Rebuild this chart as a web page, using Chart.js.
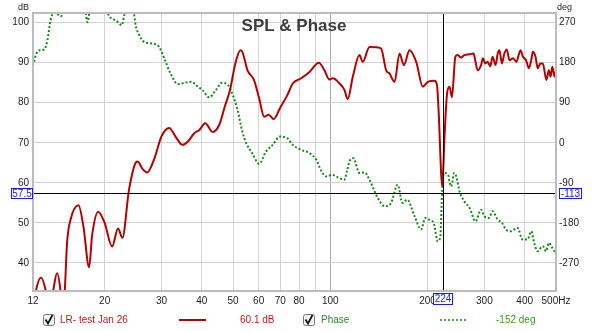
<!DOCTYPE html>
<html>
<head>
<meta charset="utf-8">
<script src="https://cdn.jsdelivr.net/npm/chart.js@4.4.0/dist/chart.umd.min.js"></script>
<style>
html, body { margin: 0; padding: 0; background: #fff; }
</style>
</head>
<body>
<canvas id="splChart" width="600" height="331"></canvas>
<script>
// SPL trace (Hz / dB)
var splFreq = [11.9, 12.25, 12.7, 13.15, 13.45, 13.85, 14.24, 14.6, 14.8, 15.05,
  15.3, 15.7, 16.6, 17.2, 17.9, 18.3, 19.1, 20.0, 21.1, 22.0,
  22.7, 23.8, 25.0, 25.3, 26.2, 27.1, 28.5, 30.0, 31.7, 33.2,
  34.8, 36.3, 37.9, 39.3, 41.0, 43.2, 45.3, 47.1, 48.9, 50.8,
  52.7, 53.4, 55.4, 58.0, 60.2, 62.4, 64.4, 66.8, 69.8, 73.6,
  76.5, 81.2, 86.2, 92.1, 95.9, 99.3, 101.8, 106.8, 110.6, 113.2,
  117.4, 123.1, 126, 132.2, 140.3, 143.7, 148.9, 152.5, 158.1, 163.8,
  168.9, 175.9, 184.5, 193.4, 200.4, 210.2, 214, 216.4, 222.2, 225.8,
  230, 234, 238, 244, 248, 254, 260, 270, 278, 281,
  286, 293, 297, 302, 307, 313, 318, 325, 330, 334,
  340, 346, 352, 359, 368, 377, 388, 395, 404, 412,
  419, 424, 432, 439, 447, 455, 467, 475, 481, 487,
  495, 500];
var splDb = [26, 33, 36.4, 33, 28, 33, 37.4, 33, 27, 33,
  45.1, 50.9, 54.4, 49, 38.9, 47, 52.8, 50, 44.1, 48.6,
  46.3, 58.3, 65.1, 65.3, 63.5, 62.6, 66, 71.6, 73.7, 71.5,
  69.5, 70.4, 72.4, 73.2, 74.9, 72.7, 74.5, 79.0, 83.2, 89.8,
  93.1, 92.7, 88.1, 85.7, 81.1, 76.5, 77.0, 75.9, 78.6, 81.9,
  84.8, 86.1, 87.7, 90.0, 88.1, 85.8, 86.1, 84.8, 83.2, 80.9,
  86.5, 91.9, 90.2, 93.9, 93.8, 93.5, 88.1, 87.3, 85.2, 92.3,
  89.4, 93.1, 90.2, 84.0, 85.2, 85.5, 84.4, 78.2, 59.2, 71.6,
  82.4, 84.0, 81.4, 91.5, 91.9, 91.3, 91.9, 92.1, 92.3, 90.6,
  88.1, 89.4, 91.1, 89.8, 90.2, 89.1, 91.5, 89.4, 92.3, 93.1,
  89.8, 92.3, 93.3, 90.6, 91.1, 90.2, 93.1, 91.5, 90.6, 88.6,
  90.6, 92.7, 91.5, 88.6, 89.8, 89.8, 85.7, 88.1, 86.5, 89.0,
  86.5, 88];

// Phase trace (Hz / deg)
var phaseFreq = [11.9, 12.3, 12.6, 13.0, 13.3, 13.6, 13.9, 14.3, 14.65, 14.95,
  16.0, 17.4, 17.7, 18.0, 19.2, 20.3, 20.6, 21.4, 22.0, 22.6,
  23.0, 23.4, 24.0, 24.5, 24.75, 24.95, 25.5, 26.5, 28.1, 29.5,
  30.6, 32.0, 33.7, 35.3, 37.1, 38.9, 40.2, 42.2, 44.2, 46.2,
  48.2, 49.9, 51.6, 53.4, 54.9, 57.3, 60.2, 63.2, 66.3, 69.8,
  73.6, 76.5, 81.2, 86.2, 90.5, 93.9, 97.5, 101.3, 105.2, 110.6,
  112.5, 114.6, 117.8, 123.1, 127.8, 132.2, 140.3, 147.6, 154.2, 161.6,
  167.3, 173, 182.4, 191, 196.9, 204, 208.9, 215.2, 219.2, 222,
  225, 231.6, 234, 236.5, 239, 241.5, 245.6, 251.3, 260, 270,
  281.6, 293, 300, 310, 318, 330, 340, 350, 362, 380,
  394, 408, 419, 428, 438, 455, 466, 475, 487, 495,
  500];
var phaseDeg = [165, 200.6, 208, 209.5, 230.4, 275, 292, 288.6, 284, 300,
  330, 300, 271, 300, 330, 300, 286, 276.7, 271.4, 264,
  286, 305, 320, 300, 283, 264, 245, 226.6, 223, 215.4,
  189.4, 155.8, 131.9, 134.8, 137, 125.8, 118.4, 102.1, 118.4, 134.8,
  129.6, 107.2, 73.7, 25, -1, -23.3, -47.2, -19.7, -4.7, 13.9,
  10.3, -4.7, -15.9, -23.3, -38.3, -64.5, -75.7, -71.9, -77, -83.1,
  -64.5, -42, -34.5, -68, -66.7, -83.1, -124, -142.8, -135.2, -94.3,
  -135.2, -127.8, -165.2, -195, -168.8, -174.2, -180, -221.2, -210, -105.4,
  -68, -71.9, -88, -98, -87, -68, -75.7, -109.3, -131.6, -146.4,
  -176.4, -150.2, -165.2, -168.8, -154, -172.6, -180, -195, -198.8, -191.2,
  -217.4, -217.4, -198.8, -224.8, -243.6, -232.4, -243.6, -224.8, -236, -243.6,
  -240];

var freqTicks = [12, 20, 30, 40, 50, 60, 70, 80, 90, 100, 200, 300, 400, 500];
var dbTicks = [40, 50, 60, 70, 80, 90, 100];
var degTicks = [-270, -180, -90, 0, 90, 180, 270];

var cursorFreq = 224;
var cursorDb = 57.5;
var cursorDeg = -113;

var FONT = '"Liberation Sans", Arial, sans-serif';
Chart.defaults.font.family = FONT;

function pts(xs, ys) {
  var out = [];
  for (var i = 0; i < xs.length; i++) out.push({ x: xs[i], y: ys[i] });
  return out;
}

function blueBox(ctx, text, x, y, w, h) {
  ctx.fillStyle = '#fff';
  ctx.fillRect(x, y, w, h);
  ctx.strokeStyle = '#1a1aff';
  ctx.lineWidth = 1;
  ctx.strokeRect(x, y, w, h);
  ctx.fillStyle = '#1a1aff';
  ctx.textAlign = 'center';
  ctx.textBaseline = 'middle';
  ctx.fillText(text, x + w / 2, y + h / 2 + 0.5);
}

function checkbox(ctx, x, y) {
  ctx.fillStyle = '#f2f2f2';
  ctx.strokeStyle = '#777';
  ctx.lineWidth = 1;
  ctx.beginPath();
  ctx.roundRect(x + 0.5, y + 0.5, 11, 11, 2);
  ctx.fill();
  ctx.stroke();
  ctx.strokeStyle = '#111';
  ctx.lineWidth = 1.7;
  ctx.beginPath();
  ctx.moveTo(x + 2.5, y + 5.5);
  ctx.lineTo(x + 5, y + 9.5);
  ctx.lineTo(x + 9.5, y + 1);
  ctx.stroke();
}

var decor = {
  id: 'decor',
  afterDraw: function (chart) {
    var ctx = chart.ctx, a = chart.chartArea;
    var cx = Math.round(chart.scales.x.getPixelForValue(cursorFreq)) + 0.5;
    var cy = Math.round(chart.scales.y.getPixelForValue(cursorDb)) + 0.5;
    ctx.save();

    // cursor
    ctx.strokeStyle = '#000';
    ctx.lineWidth = 1;
    ctx.beginPath();
    ctx.moveTo(a.left, cy); ctx.lineTo(a.right, cy);
    ctx.moveTo(cx, a.top); ctx.lineTo(cx, a.bottom);
    ctx.stroke();

    // plot frame
    ctx.strokeStyle = '#bcbcbc';
    ctx.lineWidth = 2;
    ctx.strokeRect(a.left, a.top, a.right - a.left, a.bottom - a.top);

    // title and unit labels
    ctx.fillStyle = '#3c3c3c';
    ctx.font = 'bold 17px ' + FONT;
    ctx.textAlign = 'center';
    ctx.textBaseline = 'alphabetic';
    ctx.fillText('SPL & Phase', 294, 31);
    ctx.fillStyle = '#222';
    ctx.font = '9px ' + FONT;
    ctx.textAlign = 'left';
    ctx.fillText('dB', 18, 10);
    ctx.fillText('deg', 557, 10);

    // cursor readouts
    ctx.font = '10px ' + FONT;
    blueBox(ctx, String(cursorDb), 11.5, cy - 5, 21, 10);
    blueBox(ctx, String(cursorDeg), 559.5, cy - 5, 22, 10);
    blueBox(ctx, String(cursorFreq), cx - 10, 293.5, 19, 11);

    // legend row
    var ly = 320;
    checkbox(ctx, 43, 314);
    ctx.font = '10px ' + FONT;
    ctx.textAlign = 'left';
    ctx.textBaseline = 'middle';
    ctx.fillStyle = '#cc1515';
    ctx.fillText('LR- test Jan 26', 60, ly);
    ctx.fillText('60.1 dB', 240, ly);
    ctx.strokeStyle = '#bb0000';
    ctx.lineWidth = 2;
    ctx.beginPath();
    ctx.moveTo(179, ly); ctx.lineTo(206, ly);
    ctx.stroke();

    checkbox(ctx, 303, 314);
    ctx.fillStyle = '#1f8f1f';
    ctx.fillText('Phase', 321, ly);
    ctx.fillStyle = '#3d9a17';
    ctx.fillText('-152 deg', 496, ly);
    ctx.strokeStyle = '#138a13';
    ctx.setLineDash([2, 2]);
    ctx.beginPath();
    ctx.moveTo(440, ly); ctx.lineTo(467, ly);
    ctx.stroke();
    ctx.setLineDash([]);

    ctx.restore();
  }
};

new Chart(document.getElementById('splChart').getContext('2d'), {
  type: 'line',
  data: {
    datasets: [
      {
        label: 'LR- test Jan 26',
        data: pts(splFreq, splDb),
        yAxisID: 'y',
        borderColor: '#b80000',
        borderWidth: 2,
        pointRadius: 0,
        cubicInterpolationMode: 'monotone',
        fill: false
      },
      {
        label: 'Phase',
        data: pts(phaseFreq, phaseDeg),
        yAxisID: 'y1',
        borderColor: '#138a13',
        borderWidth: 2,
        borderDash: [2, 2],
        pointRadius: 0,
        cubicInterpolationMode: 'monotone',
        fill: false
      }
    ]
  },
  options: {
    responsive: false,
    animation: false,
    devicePixelRatio: 1,
    layout: { padding: { top: 13, left: 0, right: 0, bottom: 0 } },
    plugins: {
      legend: { display: false },
      title: { display: false },
      tooltip: { enabled: false }
    },
    scales: {
      x: {
        type: 'logarithmic',
        min: 12,
        max: 500,
        afterBuildTicks: function (s) { s.ticks = freqTicks.map(function (v) { return { value: v }; }); },
        afterFit: function (s) { s.height = 40; },
        border: { display: false },
        grid: {
          drawTicks: false,
          lineWidth: 1,
          color: function (c) { return c.tick && c.tick.value === 100 ? '#a9a9a9' : '#d2d2d2'; }
        },
        ticks: {
          autoSkip: false,
          maxRotation: 0,
          padding: 4,
          color: '#222',
          font: { size: 10 },
          callback: function (v) {
            if (v === 90) return '';
            if (v === 500) return '500Hz';
            return String(v);
          }
        }
      },
      y: {
        position: 'left',
        min: 33,
        max: 102.4,
        afterBuildTicks: function (s) { s.ticks = dbTicks.map(function (v) { return { value: v }; }); },
        afterFit: function (s) { s.width = 33; },
        border: { display: false },
        grid: { drawTicks: false, color: '#d2d2d2', lineWidth: 1 },
        ticks: { padding: 4, color: '#222', font: { size: 10 } }
      },
      y1: {
        position: 'right',
        min: (33 - 70) * 9,
        max: (102.4 - 70) * 9,
        afterBuildTicks: function (s) { s.ticks = degTicks.map(function (v) { return { value: v }; }); },
        afterFit: function (s) { s.width = 44; },
        border: { display: false },
        grid: { drawOnChartArea: false, drawTicks: false },
        ticks: { padding: 3, color: '#222', font: { size: 10 } }
      }
    }
  },
  plugins: [decor]
});
</script>
</body>
</html>
